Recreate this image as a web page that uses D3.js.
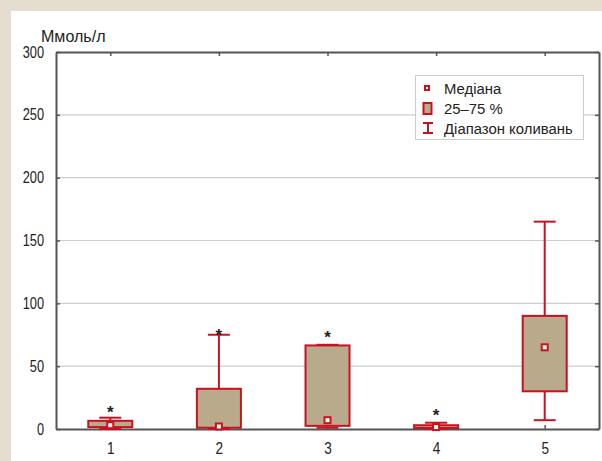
<!DOCTYPE html>
<html>
<head>
<meta charset="utf-8">
<script src="https://cdn.jsdelivr.net/npm/d3@7"></script>
<style>
  html, body { margin: 0; padding: 0; background: #e6ddd1; }
  svg { display: block; }
  text { font-family: "Liberation Sans", Arial, sans-serif; fill: #222; }
</style>
</head>
<body>
<svg id="chart" width="602" height="461"></svg>
<script>
// Groups and box-plot statistics (mmol/l)
const categories = ["1", "2", "3", "4", "5"];
const q1Values     = [1.5, 1, 2.5, 0.8, 30];
const q3Values     = [6.5, 32, 66.5, 3, 90];
const medianValues = [3, 2, 7, 1.5, 65];
const minValues    = [0, 0, 1, 0, 7];
const maxValues    = [9, 75, 67, 5, 165];
// Significance marks above groups (null = no mark)
const starValues   = [17, 78, 76, 14, null];
const yTicks = [0, 50, 100, 150, 200, 250, 300];
const yTitle = "Ммоль/л";
const legendLabels = ["Медіана", "25–75 %", "Діапазон коливань"];

const rows = categories.map((c, i) => ({
  cat: c, q1: q1Values[i], q3: q3Values[i], med: medianValues[i],
  min: minValues[i], max: maxValues[i], star: starValues[i]
}));

const svg = d3.select("#chart");
const red = "#c8121f", fill = "#b9aa8c", axisCol = "#555";
const narrow = 0.8; // horizontal squeeze of axis lettering

// white panel
svg.append("rect").attr("x", 11).attr("y", 11).attr("width", 591).attr("height", 450).attr("fill", "#fff");

const plotL = 56, plotR = 599, plotT = 52, plotB = 429;
const x = d3.scalePoint().domain(categories).range([plotL, plotR]).padding(0.5);
const y = d3.scaleLinear().domain([0, 300]).range([plotB, plotT]);

// gridlines
svg.append("g").selectAll("line").data(yTicks.filter(t => t > 0 && t < 300)).join("line")
  .attr("x1", plotL).attr("x2", plotR)
  .attr("y1", d => y(d)).attr("y2", d => y(d))
  .attr("stroke", "#cdcdcd").attr("stroke-width", 1.2);

// axes
function styleAxis(g) {
  g.select(".domain").attr("stroke", axisCol).attr("stroke-width", 2);
  g.selectAll(".tick line").attr("stroke", axisCol).attr("stroke-width", 1.5);
}
const yAxis = svg.append("g").attr("transform", `translate(${plotL},0)`)
  .call(d3.axisLeft(y).tickValues(yTicks).tickSize(-4).tickSizeOuter(0).tickPadding(12));
styleAxis(yAxis);
yAxis.selectAll("text").attr("font-size", 16).attr("fill", "#222")
  .attr("x", -12 / narrow).attr("transform", `scale(${narrow},1)`);

const yAxisR = svg.append("g").attr("transform", `translate(${plotR},0)`)
  .call(d3.axisRight(y).tickValues(yTicks).tickSize(-4).tickSizeOuter(0).tickFormat(""));
styleAxis(yAxisR);

const xAxis = svg.append("g").attr("transform", `translate(0,${plotB})`)
  .call(d3.axisBottom(x).tickSize(-4).tickSizeOuter(0).tickPadding(12.5));
styleAxis(xAxis);
xAxis.selectAll("text").attr("font-size", 17).attr("fill", "#222")
  .attr("transform", `scale(${narrow},1)`);

const xAxisT = svg.append("g").attr("transform", `translate(0,${plotT})`)
  .call(d3.axisTop(x).tickSize(-4).tickSizeOuter(0).tickFormat(""));
styleAxis(xAxisT);

// axis title
svg.append("text").attr("transform", "translate(41,42) scale(0.945,1)")
  .attr("font-size", 17).text(yTitle);

// boxes
const boxW = 44, capW = 22;
const g = svg.append("g");
rows.forEach(d => {
  const cx = x(d.cat);
  g.append("line").attr("x1", cx).attr("x2", cx).attr("y1", y(d.min)).attr("y2", y(d.max))
    .attr("stroke", red).attr("stroke-width", 2);
  [d.min, d.max].forEach(v => {
    g.append("line").attr("x1", cx - capW / 2).attr("x2", cx + capW / 2)
      .attr("y1", y(v)).attr("y2", y(v)).attr("stroke", red).attr("stroke-width", 2);
  });
  g.append("rect").attr("x", cx - boxW / 2).attr("width", boxW)
    .attr("y", y(d.q3)).attr("height", y(d.q1) - y(d.q3))
    .attr("fill", fill).attr("stroke", red).attr("stroke-width", 2);
  g.append("rect").attr("x", cx - 3).attr("y", y(d.med) - 3).attr("width", 6).attr("height", 6)
    .attr("fill", "#fff").attr("stroke", red).attr("stroke-width", 2);
  if (d.star != null) {
    g.append("text").attr("x", cx).attr("y", y(d.star) + 10).attr("text-anchor", "middle")
      .attr("font-size", 17).attr("font-weight", "bold").text("*");
  }
});

// legend
const lg = svg.append("g");
lg.append("rect").attr("x", 415.5).attr("y", 75.5).attr("width", 168).attr("height", 64)
  .attr("fill", "#fff").attr("stroke", "#cccccc").attr("stroke-width", 1);
const rowY = [88, 108, 128];
lg.append("rect").attr("x", 425).attr("y", rowY[0] - 2).attr("width", 4).attr("height", 4)
  .attr("fill", "#fff").attr("stroke", red).attr("stroke-width", 2);
lg.append("rect").attr("x", 423.5).attr("y", rowY[1] - 5).attr("width", 8).attr("height", 11)
  .attr("fill", fill).attr("stroke", red).attr("stroke-width", 2);
lg.append("line").attr("x1", 428).attr("x2", 428).attr("y1", rowY[2] - 5).attr("y2", rowY[2] + 5)
  .attr("stroke", red).attr("stroke-width", 2);
[-5, 5].forEach(o => lg.append("line").attr("x1", 423).attr("x2", 433)
  .attr("y1", rowY[2] + o).attr("y2", rowY[2] + o).attr("stroke", red).attr("stroke-width", 2));
legendLabels.forEach((t, i) => {
  lg.append("text").attr("transform", `translate(444,${rowY[i] + 5.5}) scale(0.96,1)`)
    .attr("font-size", 15.5).text(t);
});
</script>
</body>
</html>
